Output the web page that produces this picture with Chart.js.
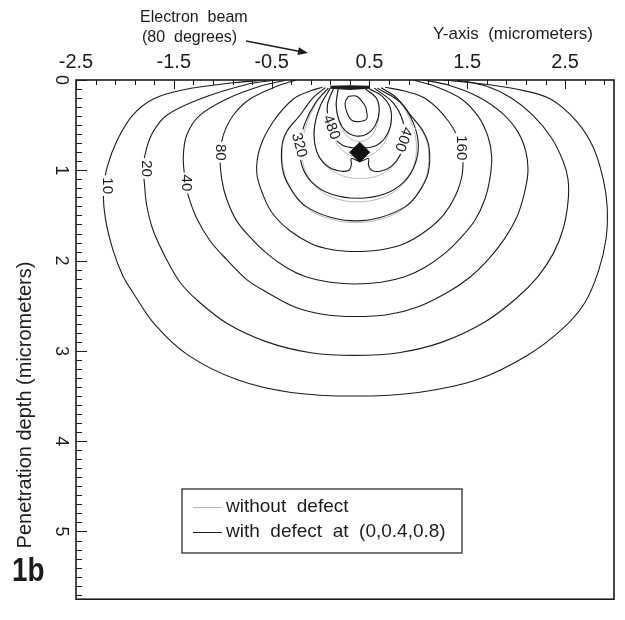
<!DOCTYPE html>
<html>
<head>
<meta charset="utf-8">
<script src="https://cdn.jsdelivr.net/npm/chart.js@4.4.1/dist/chart.umd.min.js"></script>
<style>
html,body{margin:0;padding:0;background:#fff;}
#wrap{width:625px;height:620px;}
</style>
</head>
<body>
<div id="wrap"><canvas id="c" width="625" height="620"></canvas></div>
<script>
// Axis ticks (micrometers)
const lateralTicks = [-2.5, -1.5, -0.5, 0.5, 1.5, 2.5];
const depthTicks = [0, 1, 2, 3, 4, 5];

// Series names
const seriesNames = ['without defect', 'with defect at (0,0.4,0.8)'];

// Defect position: [lateral, depth]
const defect = [0.4, 0.8];

// Iso-lines with defect, points are [lateral, depth]
const c10 = [[-0.55,0.0],[-0.89,0.03],[-1.41,0.11],[-1.71,0.21],[-1.92,0.39],[-2.08,0.67],[-2.18,0.96],[-2.22,1.22],[-2.20,1.53],[-2.12,1.89],[-2.02,2.17],[-1.92,2.35],[-1.70,2.70],[-1.35,3.05],[-0.85,3.32],[-0.30,3.46],[0.35,3.50],[1.00,3.46],[1.60,3.32],[2.10,3.06],[2.47,2.76],[2.70,2.47],[2.84,2.12],[2.92,1.75],[2.93,1.40],[2.89,1.10],[2.79,0.75],[2.62,0.46],[2.35,0.21],[2.00,0.10],[1.55,0.03],[1.25,0.0]];
const c20 = [[-0.45,0.0],[-0.755,0.05],[-1.232,0.21],[-1.573,0.39],[-1.71,0.57],[-1.777,0.75],[-1.812,0.96],[-1.80,1.15],[-1.777,1.39],[-1.71,1.67],[-1.573,1.99],[-1.437,2.24],[-1.25,2.45],[-0.95,2.70],[-0.55,2.90],[-0.10,3.02],[0.35,3.05],[0.80,3.02],[1.25,2.90],[1.68,2.68],[2.00,2.42],[2.22,2.18],[2.38,1.92],[2.48,1.65],[2.53,1.35],[2.53,1.10],[2.48,0.90],[2.36,0.64],[2.17,0.39],[1.95,0.20],[1.70,0.07],[1.40,0.0]];
const c40 = [[-0.35,0.0],[-0.619,0.07],[-0.959,0.21],[-1.232,0.39],[-1.368,0.61],[-1.403,0.85],[-1.385,1.10],[-1.352,1.28],[-1.266,1.53],[-1.13,1.78],[-0.959,1.99],[-0.755,2.21],[-0.55,2.35],[-0.25,2.52],[0.05,2.60],[0.35,2.62],[0.68,2.60],[1.00,2.51],[1.30,2.35],[1.52,2.19],[1.72,1.98],[1.88,1.76],[2.01,1.51],[2.08,1.27],[2.12,1.02],[2.10,0.80],[2.02,0.58],[1.86,0.37],[1.62,0.19],[1.32,0.06],[1.05,0.0]];
const c80 = [[-0.25,0.0],[-0.448,0.07],[-0.721,0.21],[-0.892,0.39],[-0.994,0.61],[-1.028,0.82],[-1.01,1.10],[-0.959,1.32],[-0.857,1.56],[-0.721,1.74],[-0.55,1.92],[-0.346,2.08],[-0.15,2.18],[0.10,2.24],[0.35,2.26],[0.62,2.24],[0.86,2.18],[1.06,2.08],[1.27,1.92],[1.44,1.74],[1.58,1.55],[1.68,1.32],[1.73,1.10],[1.75,0.85],[1.71,0.62],[1.61,0.40],[1.44,0.21],[1.17,0.07],[0.95,0.0]];
const c160 = [[0.02,0.08],[-0.10,0.12],[-0.278,0.21],[-0.483,0.46],[-0.619,0.75],[-0.652,1.03],[-0.585,1.28],[-0.483,1.49],[-0.312,1.67],[-0.10,1.81],[0.12,1.88],[0.36,1.90],[0.62,1.88],[0.86,1.81],[1.08,1.67],[1.26,1.49],[1.38,1.28],[1.45,1.03],[1.44,0.75],[1.31,0.46],[1.08,0.21],[0.85,0.12],[0.66,0.08]];
const c240 = [[0.05,0.085],[-0.08,0.20],[-0.21,0.39],[-0.346,0.57],[-0.397,0.75],[-0.38,1.03],[-0.278,1.25],[-0.15,1.40],[0.10,1.52],[0.36,1.56],[0.62,1.52],[0.87,1.40],[1.00,1.25],[1.10,1.03],[1.11,0.75],[1.05,0.57],[0.92,0.39],[0.78,0.20],[0.62,0.085]];
const c320 = [[0.08,0.09],[-0.05,0.25],[-0.16,0.48],[-0.21,0.72],[-0.19,0.95],[-0.09,1.13],[0.10,1.26],[0.38,1.31],[0.66,1.26],[0.85,1.13],[0.96,0.95],[1.00,0.72],[0.95,0.48],[0.82,0.25],[0.58,0.09]];
const c400 = [[0.10,0.09],[0.0,0.28],[-0.06,0.50],[-0.06,0.70],[-0.01,0.86],[0.09,0.97],[0.21,1.01],[0.29,1.00],[0.315,0.94],[0.315,0.87],[0.404,0.90],[0.49,0.87],[0.49,0.94],[0.52,1.00],[0.61,1.01],[0.72,0.96],[0.81,0.84],[0.86,0.66],[0.84,0.45],[0.74,0.25],[0.55,0.09]];
const c480 = [[0.13,0.10],[0.07,0.28],[0.09,0.50],[0.14,0.64],[0.22,0.72],[0.32,0.75],[0.36,0.745],[0.404,0.72],[0.45,0.745],[0.49,0.75],[0.58,0.72],[0.66,0.64],[0.72,0.48],[0.71,0.30],[0.62,0.17],[0.50,0.10]];
const c560 = [[0.18,0.10],[0.16,0.28],[0.19,0.45],[0.26,0.57],[0.36,0.62],[0.47,0.60],[0.56,0.50],[0.60,0.35],[0.57,0.20],[0.46,0.10]];
const c640 = [[0.285,0.18],[0.251,0.25],[0.268,0.355],[0.319,0.445],[0.404,0.46],[0.472,0.43],[0.470,0.34],[0.455,0.285],[0.37,0.18],[0.285,0.18]];
const c720 = [[0.10,0.08],[0.30,0.075],[0.50,0.08],[0.30,0.095],[0.10,0.08]];

// Iso-lines without defect (differ mostly near the defect)
const g240 = [[0.05,0.085],[-0.08,0.20],[-0.21,0.39],[-0.34,0.57],[-0.39,0.75],[-0.37,1.03],[-0.27,1.26],[-0.14,1.42],[0.10,1.54],[0.36,1.58],[0.62,1.54],[0.86,1.42],[0.99,1.26],[1.09,1.03],[1.10,0.75],[1.04,0.57],[0.92,0.39],[0.78,0.20],[0.62,0.085]];
const g320 = [[0.08,0.09],[-0.04,0.25],[-0.14,0.48],[-0.19,0.72],[-0.17,0.96],[-0.07,1.16],[0.12,1.30],[0.38,1.35],[0.64,1.30],[0.84,1.16],[0.95,0.96],[0.98,0.72],[0.93,0.48],[0.81,0.25],[0.58,0.09]];
const g400 = [[0.10,0.09],[0.0,0.28],[-0.06,0.50],[-0.06,0.70],[-0.01,0.86],[0.10,0.99],[0.25,1.07],[0.40,1.09],[0.56,1.07],[0.71,0.98],[0.81,0.84],[0.86,0.66],[0.84,0.45],[0.74,0.25],[0.55,0.09]];
const g480 = [[0.13,0.10],[0.07,0.28],[0.09,0.50],[0.15,0.68],[0.26,0.81],[0.40,0.86],[0.55,0.81],[0.66,0.68],[0.72,0.48],[0.71,0.30],[0.62,0.17],[0.50,0.10]];
const g560 = [[0.18,0.10],[0.16,0.28],[0.19,0.47],[0.27,0.62],[0.38,0.68],[0.50,0.64],[0.57,0.52],[0.60,0.35],[0.57,0.20],[0.46,0.10]];

// Level labels: [text, lateral, depth]
const contourLabels = [['10',-2.17,1.17],['20',-1.774,0.98],['40',-1.36,1.14],['80',-1.017,0.80],['160',1.447,0.75],['320',-0.21,0.72],['480',0.118,0.52],['400',0.854,0.66]];

const FONT = "'Liberation Sans', Arial, Helvetica, sans-serif";
const INK = '#1c1c1c';
const labelAngles = [90, 90, 90, 90, 90, 75, 70, 110];

const toXY = pts => pts.map(([a, b]) => ({x: a, y: b}));

const blackSets = [c10, c20, c40, c80, c160, c240, c320, c400, c480, c560, c640].map(pts => ({
  label: seriesNames[1], data: toXY(pts), showLine: true, borderColor: INK,
  borderWidth: 1.1, pointRadius: 0, tension: 0.35, order: 1
}));
blackSets.push({label: seriesNames[1], data: toXY(c720), showLine: true, borderColor: INK,
  borderWidth: 3, pointRadius: 0, tension: 0, order: 1});

const graySets = [g240, g320, g400, g480, g560].map(pts => ({
  label: seriesNames[0], data: toXY(pts), showLine: true, borderColor: '#b8b8b8',
  borderWidth: 1, pointRadius: 0, tension: 0.35, order: 2
}));

const defectSet = {
  label: 'defect', data: [{x: defect[0], y: defect[1]}], showLine: false,
  pointStyle: 'rectRot', pointRadius: 10, backgroundColor: '#111', borderColor: '#111', order: 0
};

const decor = {
  id: 'decor',
  afterDatasetsDraw(chart) {
    const {ctx, scales: {x, y}} = chart;
    ctx.save();
    ctx.font = `15px ${FONT}`;
    contourLabels.forEach(([txt, vx, vd], i) => {
      const px = x.getPixelForValue(vx), py = y.getPixelForValue(vd);
      ctx.save();
      ctx.translate(px, py);
      ctx.rotate(labelAngles[i] * Math.PI / 180);
      const w = ctx.measureText(txt).width;
      ctx.fillStyle = '#fff';
      ctx.fillRect(-w / 2 - 2, -7, w + 4, 14);
      ctx.fillStyle = INK;
      ctx.textAlign = 'center';
      ctx.textBaseline = 'middle';
      ctx.fillText(txt, 0, 1);
      ctx.restore();
    });
    ctx.restore();
  },
  afterDraw(chart) {
    const {ctx, chartArea: a, scales: {x, y}} = chart;
    ctx.save();
    ctx.strokeStyle = INK;
    // plot frame
    ctx.lineWidth = 1.6;
    ctx.strokeRect(a.left, a.top, a.right - a.left, a.bottom - a.top);
    // inner tick marks
    ctx.lineWidth = 1;
    ctx.beginPath();
    for (let i = 0; i <= 57; i++) {
      const py = Math.round(y.getPixelForValue(i / 10)) + 0.5;
      const len = i % 10 === 0 ? 11 : 6;
      ctx.moveTo(a.left, py); ctx.lineTo(a.left + len, py);
    }
    for (let i = 0; i <= 27; i++) {
      const px = Math.round(x.getPixelForValue(-2.5 + i * 0.2)) + 0.5;
      const len = i % 5 === 0 ? 9 : 5;
      ctx.moveTo(px, a.top); ctx.lineTo(px, a.top + len);
    }
    ctx.stroke();

    ctx.fillStyle = INK;
    // axis titles
    ctx.font = `17px ${FONT}`;
    ctx.textAlign = 'right';
    ctx.textBaseline = 'middle';
    ctx.fillText('Y-axis  (micrometers)', 593, 34);
    ctx.save();
    ctx.translate(25, 405);
    ctx.rotate(-Math.PI / 2);
    ctx.font = `20px ${FONT}`;
    ctx.textAlign = 'center';
    ctx.fillText('Penetration depth (micrometers)', 0, 0);
    ctx.restore();

    // beam annotation
    ctx.font = `16px ${FONT}`;
    ctx.textAlign = 'left';
    ctx.fillText('Electron  beam', 140, 18);
    ctx.fillText('(80  degrees)', 142, 38);
    const ax0 = 246, ay0 = 41, ax1 = 308, ay1 = 53;
    ctx.lineWidth = 1.4;
    ctx.beginPath(); ctx.moveTo(ax0, ay0); ctx.lineTo(ax1 - 4, ay1 - 0.8); ctx.stroke();
    const ang = Math.atan2(ay1 - ay0, ax1 - ax0);
    ctx.beginPath();
    ctx.moveTo(ax1, ay1);
    ctx.lineTo(ax1 - 10 * Math.cos(ang) + 4 * Math.sin(ang), ay1 - 10 * Math.sin(ang) - 4 * Math.cos(ang));
    ctx.lineTo(ax1 - 10 * Math.cos(ang) - 4 * Math.sin(ang), ay1 - 10 * Math.sin(ang) + 4 * Math.cos(ang));
    ctx.closePath(); ctx.fill();

    // panel tag
    ctx.save();
    ctx.translate(12, 581);
    ctx.scale(0.82, 1);
    ctx.font = `bold 34px ${FONT}`;
    ctx.textBaseline = 'alphabetic';
    ctx.fillText('1b', 0, 0);
    ctx.restore();

    // legend
    ctx.lineWidth = 1.2;
    ctx.fillStyle = '#fff';
    ctx.fillRect(182, 489, 280, 64);
    ctx.strokeRect(182, 489, 280, 64);
    ctx.font = `19px ${FONT}`;
    ctx.textAlign = 'left';
    ctx.textBaseline = 'middle';
    const colors = [graySets[0].borderColor, INK];
    seriesNames.forEach((name, i) => {
      const ly = 507 + i * 25;
      ctx.strokeStyle = colors[i];
      ctx.lineWidth = 1;
      ctx.beginPath(); ctx.moveTo(193, ly + 0.5); ctx.lineTo(222, ly + 0.5); ctx.stroke();
      ctx.fillStyle = INK;
      ctx.fillText(name.replace(/ /g, '  '), 226, ly);
    });
    ctx.restore();
  }
};

new Chart(document.getElementById('c'), {
  type: 'scatter',
  data: {datasets: [defectSet, ...blackSets, ...graySets]},
  options: {
    responsive: false,
    animation: false,
    devicePixelRatio: 1,
    layout: {padding: {left: 0, right: 11, top: 0, bottom: 1}},
    plugins: {legend: {display: false}, tooltip: {enabled: false}},
    scales: {
      x: {
        type: 'linear', position: 'top', min: -2.5, max: 3.0,
        afterBuildTicks: s => { s.ticks = lateralTicks.map(v => ({value: v})); },
        afterFit: s => { s.height = 80; },
        grid: {display: false, drawTicks: false, tickLength: 0},
        border: {display: false},
        ticks: {color: INK, font: {family: FONT, size: 20}, padding: 6,
          maxRotation: 0, minRotation: 0, callback: v => v.toFixed(1)}
      },
      y: {
        type: 'linear', reverse: true, min: 0, max: 5.75,
        afterBuildTicks: s => { s.ticks = depthTicks.map(v => ({value: v})); },
        afterFit: s => { s.width = 76; },
        grid: {display: false, drawTicks: false, tickLength: 0},
        border: {display: false},
        ticks: {color: INK, font: {family: FONT, size: 18}, padding: 10,
          minRotation: -90, maxRotation: -90, crossAlign: 'center', callback: v => String(v)}
      }
    }
  },
  plugins: [decor]
});
</script>
</body>
</html>
